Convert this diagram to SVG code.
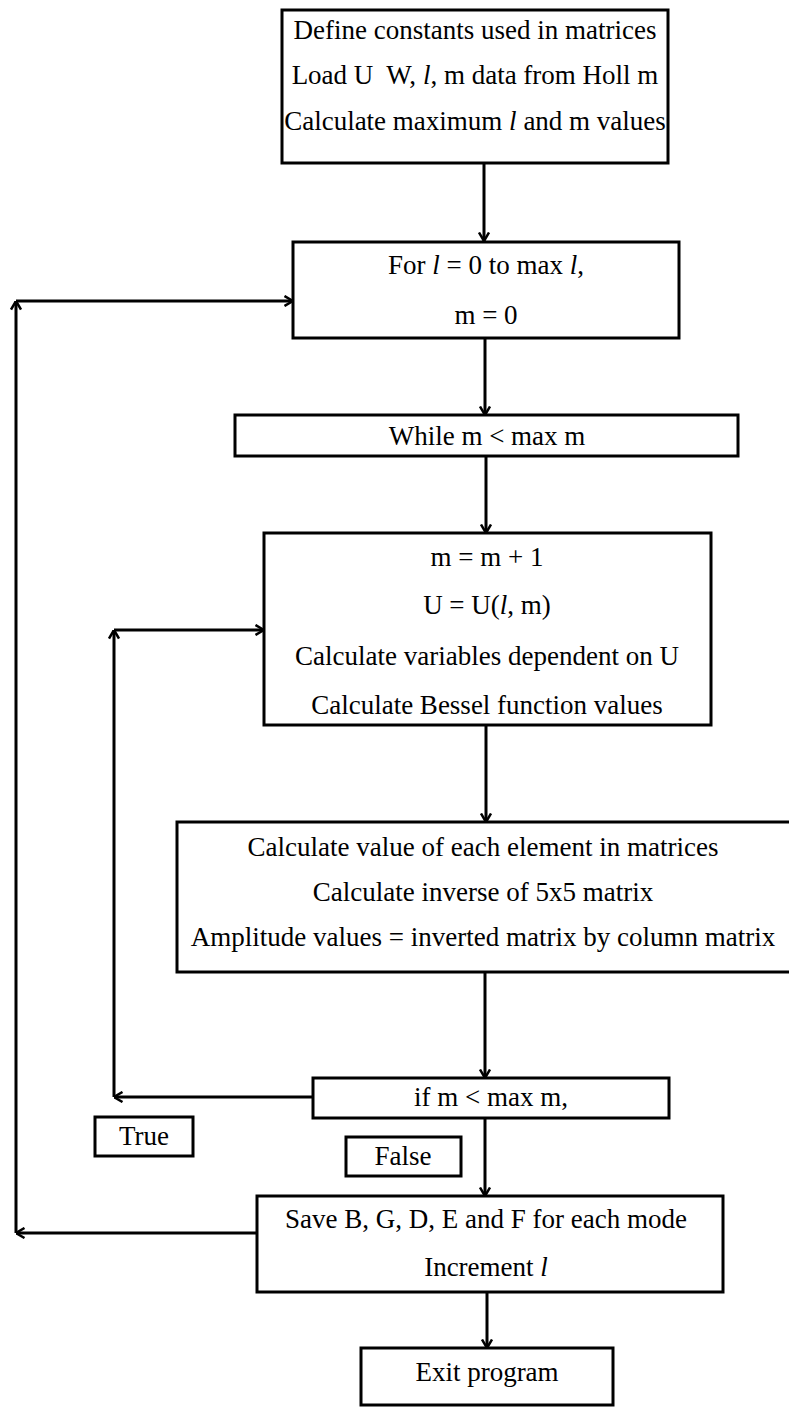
<svg xmlns="http://www.w3.org/2000/svg" width="789" height="1407" viewBox="0 0 789 1407">
<style>
.box{fill:#fff;stroke:#000;stroke-width:3}
.t{font-family:"Liberation Serif","Times New Roman",serif;font-size:27px;fill:#000;text-anchor:middle}
.c{fill:none;stroke:#000;stroke-width:3}
.i{font-style:italic}
</style>
<defs>
<marker id="ah" viewBox="0 0 10 12" refX="9.5" refY="6" markerWidth="10" markerHeight="12" markerUnits="userSpaceOnUse" orient="auto">
<path d="M1,1 L9.5,6 L1,11" fill="none" stroke="#000" stroke-width="2.5"/>
</marker>
</defs>
<rect width="789" height="1407" fill="#fff"/>
<g id="connectors">
<path class="c" d="M484,163 V241" marker-end="url(#ah)"/>
<path class="c" d="M485,338 V415" marker-end="url(#ah)"/>
<path class="c" d="M486,456 V533" marker-end="url(#ah)"/>
<path class="c" d="M486,725 V822" marker-end="url(#ah)"/>
<path class="c" d="M485,972 V1078" marker-end="url(#ah)"/>
<path class="c" d="M485,1118 V1196" marker-end="url(#ah)"/>
<path class="c" d="M487,1292 V1348" marker-end="url(#ah)"/>
<path class="c" d="M313,1097 H114" marker-end="url(#ah)"/>
<path class="c" d="M114,1097 V630" marker-end="url(#ah)"/>
<path class="c" d="M114,630 H264" marker-end="url(#ah)"/>
<path class="c" d="M257,1233 H16" marker-end="url(#ah)"/>
<path class="c" d="M16,1233 V301" marker-end="url(#ah)"/>
<path class="c" d="M16,301 H293" marker-end="url(#ah)"/>
</g>
<g id="n1">
<rect class="box" x="282" y="10" width="386" height="153"/>
<text class="t" x="475" y="39">Define constants used in matrices</text>
<text class="t" x="475" y="84" xml:space="preserve">Load U  W, <tspan class="i">l</tspan>, m data from Holl m</text>
<text class="t" x="475" y="130">Calculate maximum <tspan class="i">l</tspan> and m values</text>
</g>
<g id="n2">
<rect class="box" x="293" y="242" width="386" height="96"/>
<text class="t" x="486" y="274">For <tspan class="i">l</tspan> = 0 to max <tspan class="i">l</tspan>,</text>
<text class="t" x="486" y="324">m = 0</text>
</g>
<g id="n3">
<rect class="box" x="235" y="415" width="503" height="41"/>
<text class="t" x="487" y="445">While m &lt; max m</text>
</g>
<g id="n4">
<rect class="box" x="264" y="533" width="447" height="192"/>
<text class="t" x="487" y="566">m = m + 1</text>
<text class="t" x="487" y="614">U = U(<tspan class="i">l</tspan>, m)</text>
<text class="t" x="487" y="665">Calculate variables dependent on U</text>
<text class="t" x="487" y="714">Calculate Bessel function values</text>
</g>
<g id="n5">
<rect class="box" x="177" y="822" width="620" height="150"/>
<text class="t" x="483" y="856">Calculate value of each element in matrices</text>
<text class="t" x="483" y="901">Calculate inverse of 5x5 matrix</text>
<text class="t" x="483" y="946">Amplitude values = inverted matrix by column matrix</text>
</g>
<g id="n6">
<rect class="box" x="313" y="1078" width="356" height="40"/>
<text class="t" x="491" y="1106">if m &lt; max m,</text>
</g>
<g id="n7">
<rect class="box" x="95" y="1117" width="98" height="39"/>
<text class="t" x="144" y="1145">True</text>
</g>
<g id="n8">
<rect class="box" x="346" y="1137" width="115" height="39"/>
<text class="t" x="403" y="1165">False</text>
</g>
<g id="n9">
<rect class="box" x="257" y="1196" width="466" height="96"/>
<text class="t" x="486" y="1228">Save B, G, D, E and F for each mode</text>
<text class="t" x="486" y="1276">Increment <tspan class="i">l</tspan></text>
</g>
<g id="n10">
<rect class="box" x="361" y="1348" width="252" height="57"/>
<text class="t" x="487" y="1381">Exit program</text>
</g>
</svg>
